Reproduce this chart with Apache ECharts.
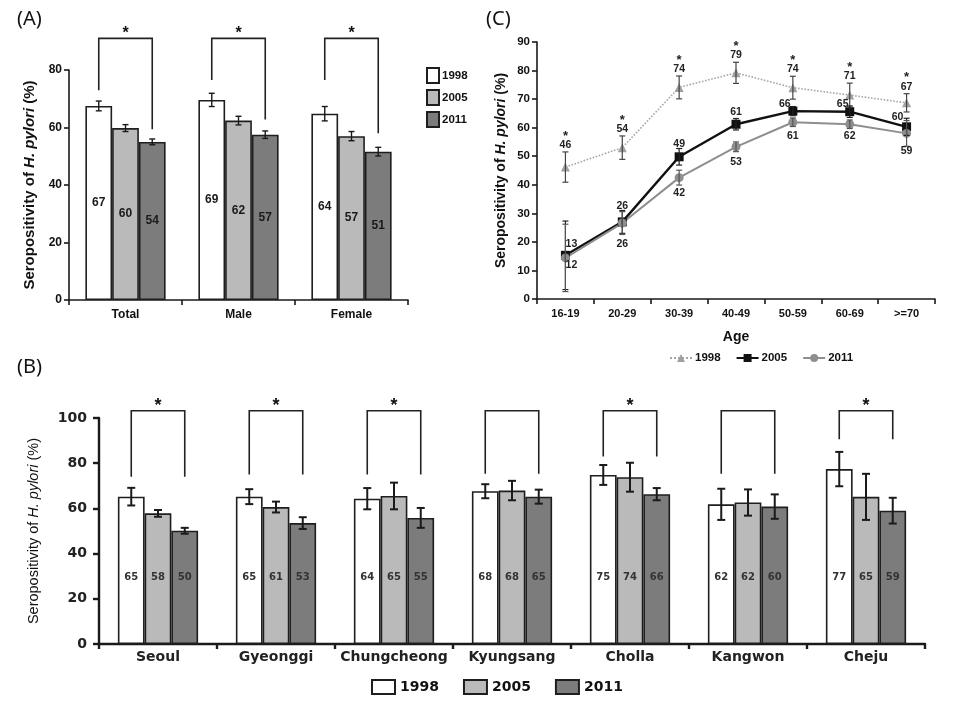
<!DOCTYPE html>
<html><head><meta charset="utf-8">
<script src="https://cdn.jsdelivr.net/npm/echarts@6/dist/echarts.min.js"></script>
<style>html,body{margin:0;background:#fff}#c{width:960px;height:720px}</style>
</head><body><div id="c"></div>
<script>
// ---------- Panel A: total / sex ----------
const aCats = ['Total', 'Male', 'Female'];
const a1998 = [67.5, 69.6, 64.8];
const a2005 = [59.8, 62.4, 57.0];
const a2011 = [55.0, 57.5, 51.6];
const a1998Err = [1.7, 2.3, 2.5];
const a2005Err = [1.2, 1.5, 1.6];
const a2011Err = [1.0, 1.3, 1.5];
const a1998Lbl = [67, 69, 64];
const a2005Lbl = [60, 62, 57];
const a2011Lbl = [54, 57, 51];
const aBrLeft = [73, 76.5, 76.5];
const aBrRight = [59.4, 62.8, 58.0];
const aBrTop = [91, 91, 91];
const aStar = [1, 1, 1];
const aTicks = [0, 20, 40, 60, 80];

// ---------- Panel B: regions ----------
const bCats = ['Seoul', 'Gyeonggi', 'Chungcheong', 'Kyungsang', 'Cholla', 'Kangwon', 'Cheju'];
const b1998 = [65.2, 65.2, 64.3, 67.6, 74.8, 61.8, 77.4];
const b2005 = [57.8, 60.6, 65.5, 67.9, 73.8, 62.6, 65.1];
const b2011 = [50.1, 53.5, 55.8, 65.2, 66.3, 60.8, 59.0];
const b1998Err = [3.9, 3.3, 4.7, 3.1, 4.4, 6.9, 7.6];
const b2005Err = [1.5, 2.4, 5.9, 4.3, 6.4, 5.8, 10.2];
const b2011Err = [1.3, 2.6, 4.4, 3.1, 2.7, 5.4, 5.7];
const b1998Lbl = [65, 65, 64, 68, 75, 62, 77];
const b2005Lbl = [58, 61, 65, 68, 74, 62, 65];
const b2011Lbl = [50, 53, 55, 65, 66, 60, 59];
const bBrLeft = [74, 75, 75, 75.3, 83, 75.3, 90.6];
const bBrRight = [74, 75, 75, 75.3, 83, 75.3, 90.6];
const bBrTop = [103.2, 103.2, 103.2, 103.2, 103.2, 103.2, 103.2];
const bStar = [1, 1, 1, 0, 1, 0, 1];
const bTicks = [0, 20, 40, 60, 80, 100];

// ---------- Panel C: age groups ----------
const cCats = ['16-19', '20-29', '30-39', '40-49', '50-59', '60-69', '>=70'];
const c1998 = [46.2, 53.0, 74.1, 79.2, 74.0, 71.4, 68.7];
const c2005 = [15.3, 27.0, 49.8, 61.2, 65.8, 65.6, 60.3];
const c2011 = [14.4, 26.6, 42.5, 53.3, 61.9, 61.2, 58.0];
const c1998Err = [5.3, 4.1, 4.0, 3.7, 4.0, 4.2, 3.2];
const c2005Err = [12.0, 4.0, 2.9, 2.0, 1.6, 2.0, 3.0];
const c2011Err = [11.8, 4.0, 2.6, 1.7, 1.5, 1.5, 4.5];
const c1998Lbl = [46, 54, 74, 79, 74, 71, 67];
const c2005Lbl = [13, 26, 49, 61, 66, 65, 60];
const c2011Lbl = [12, 26, 42, 53, 61, 62, 59];
const cStar = [1, 1, 1, 1, 1, 1, 1];
const cTicks = [0, 10, 20, 30, 40, 50, 60, 70, 80, 90];

const years = ['1998', '2005', '2011'];

// ---------- styling ----------
const NARROW = "'Liberation Sans',Arial,sans-serif";
const SANS = "'Liberation Sans',Arial,sans-serif";
const WIDE = "'DejaVu Sans',Verdana,sans-serif";
const barColors = ['#ffffff', '#bababa', '#7c7c7c'];
const A_GAP = 0.29, B_GAP = 0.32;

function errBarItem(gap, k, color, capW, lw) {
  return function (params, api) {
    const i = api.value(0), v = api.value(1), e = api.value(2);
    const band = api.size([1, 0])[0];
    const gw = band * (1 - gap), bw = gw / 3;
    const x = api.coord([i, v])[0] - gw / 2 + bw * (k + 0.5);
    const yt = api.coord([i, v + e])[1], yb = api.coord([i, v - e])[1];
    const st = { stroke: color, lineWidth: lw };
    return { type: 'group', children: [
      { type: 'line', shape: { x1: x, y1: yt, x2: x, y2: yb }, style: st },
      { type: 'line', shape: { x1: x - capW, y1: yt, x2: x + capW, y2: yt }, style: st },
      { type: 'line', shape: { x1: x - capW, y1: yb, x2: x + capW, y2: yb }, style: st }
    ] };
  };
}
function bracketItem(gap, starFont, starDy) {
  return function (params, api) {
    const i = api.value(0), l = api.value(1), r = api.value(2), t = api.value(3), s = api.value(4);
    const band = api.size([1, 0])[0];
    const gw = band * (1 - gap), bw = gw / 3;
    const cx = api.coord([i, t])[0];
    const lx = cx - gw / 2 + bw / 2, rx = cx + gw / 2 - bw / 2;
    const yt = api.coord([i, t])[1];
    const ch = [{ type: 'polyline', shape: { points: [[lx, api.coord([i, l])[1]], [lx, yt], [rx, yt], [rx, api.coord([i, r])[1]]] },
      style: { stroke: '#222', lineWidth: 1.6, fill: null } }];
    if (s) ch.push({ type: 'text', x: (lx + rx) / 2, y: yt + starDy,
      style: { text: '*', font: starFont, fill: '#111', align: 'center', verticalAlign: 'middle' } });
    return { type: 'group', children: ch };
  };
}
function lineErrItem(color, capW, lw, labelFn) {
  return function (params, api) {
    const i = api.value(0), v = api.value(1), e = api.value(2);
    const p = api.coord([i, v]);
    const x = p[0];
    const yt = api.coord([i, v + e])[1], yb = api.coord([i, v - e])[1];
    const st = { stroke: color, lineWidth: lw };
    const ch = [
      { type: 'line', shape: { x1: x, y1: yt, x2: x, y2: yb }, style: st },
      { type: 'line', shape: { x1: x - capW, y1: yt, x2: x + capW, y2: yt }, style: st },
      { type: 'line', shape: { x1: x - capW, y1: yb, x2: x + capW, y2: yb }, style: st }
    ];
    labelFn(params.dataIndex, p, yt, yb).forEach(t => ch.push(t));
    return { type: 'group', children: ch, z2: 50 };
  };
}
const cLblFont = 'bold 10.5px ' + NARROW;
function txt(s, x, y, font) {
  return { type: 'text', x: x, y: y, style: { text: String(s), font: font || cLblFont, fill: '#222', align: 'center', verticalAlign: 'middle' } };
}
const off2005 = [[6, -11], [0, -16], [0, -13], [0, -12], [-8, -7], [-7, -8], [-9, -10]];
const off2011 = [[6, 7], [0, 21], [0, 15], [0, 15], [0, 14], [0, 12], [0, 18]];

const tri = (arr, err) => arr.map((v, i) => [i, v, err[i]]);
const br = (l, r, t, s) => l.map((v, i) => [i, v, r[i], t[i], s[i]]);

function axisName(size, weight, family) {
  return {
    fontSize: size, fontWeight: weight, fontFamily: family, color: '#111',
    rich: {
      a: { fontSize: size, fontWeight: weight, fontFamily: family, color: '#111' },
      b: { fontSize: size, fontWeight: weight, fontFamily: family, fontStyle: 'italic', color: '#111' }
    }
  };
}
const yName = '{a|Seropositivity of }{b|H. pylori}{a| (%)}';

const axLine = { show: true, lineStyle: { color: '#1a1a1a', width: 1.6 } };
const axTick = { show: true, length: 5, lineStyle: { color: '#1a1a1a', width: 1.6 } };

function barSeries(prefix, k, data, lbls, ax, gap, labelCfg) {
  return {
    type: 'bar', name: prefix + years[k], xAxisIndex: ax, yAxisIndex: ax, data: data,
    barGap: '0%', barCategoryGap: (gap * 100) + '%',
    itemStyle: { color: barColors[k], borderColor: '#1e1e1e', borderWidth: 1.6 },
    label: Object.assign({ show: true, formatter: p => String(lbls[p.dataIndex]), color: '#1a1a1a' }, labelCfg),
    emphasis: { disabled: true }, z: 2
  };
}

const series = [];
// Panel A bars
[[a1998, a1998Lbl], [a2005, a2005Lbl], [a2011, a2011Lbl]].forEach((d, k) =>
  series.push(barSeries('A', k, d[0], d[1], 0, A_GAP, { position: 'inside', fontSize: 12, fontWeight: 'bold', fontFamily: NARROW })));
[[a1998, a1998Err], [a2005, a2005Err], [a2011, a2011Err]].forEach((d, k) =>
  series.push({ type: 'custom', xAxisIndex: 0, yAxisIndex: 0, clip: false, z: 5, silent: true,
    renderItem: errBarItem(A_GAP, k, '#1a1a1a', 3, 1.4), data: tri(d[0], d[1]) }));
series.push({ type: 'custom', xAxisIndex: 0, yAxisIndex: 0, clip: false, z: 5, silent: true,
  renderItem: bracketItem(A_GAP, 'bold 16px ' + SANS, -5), data: br(aBrLeft, aBrRight, aBrTop, aStar) });

// Panel B bars
[[b1998, b1998Lbl], [b2005, b2005Lbl], [b2011, b2011Lbl]].forEach((d, k) =>
  series.push(barSeries('B', k, d[0], d[1], 1, B_GAP, { position: 'insideBottom', distance: 62, fontSize: 10, fontWeight: 'bold', fontFamily: WIDE, color: '#333' })));
[[b1998, b1998Err], [b2005, b2005Err], [b2011, b2011Err]].forEach((d, k) =>
  series.push({ type: 'custom', xAxisIndex: 1, yAxisIndex: 1, clip: false, z: 5, silent: true,
    renderItem: errBarItem(B_GAP, k, '#1a1a1a', 4, 2), data: tri(d[0], d[1]) }));
series.push({ type: 'custom', xAxisIndex: 1, yAxisIndex: 1, clip: false, z: 5, silent: true,
  renderItem: bracketItem(B_GAP, 'bold 18px ' + SANS, -5), data: br(bBrLeft, bBrRight, bBrTop, bStar) });

// Panel C lines
series.push({ type: 'line', name: 'C1998', xAxisIndex: 2, yAxisIndex: 2, data: c1998, symbol: 'triangle', symbolSize: 9,
  lineStyle: { color: '#a6a6a6', type: 'dotted', width: 1.6 }, itemStyle: { color: '#a0a0a0' }, z: 3, emphasis: { disabled: true } });
series.push({ type: 'line', name: 'C2005', xAxisIndex: 2, yAxisIndex: 2, data: c2005, symbol: 'rect', symbolSize: 9,
  lineStyle: { color: '#111', width: 2.4 }, itemStyle: { color: '#111' }, z: 4, emphasis: { disabled: true } });
series.push({ type: 'line', name: 'C2011', xAxisIndex: 2, yAxisIndex: 2, data: c2011, symbol: 'circle', symbolSize: 9,
  lineStyle: { color: '#8e8e8e', width: 2 }, itemStyle: { color: '#8e8e8e' }, z: 4, emphasis: { disabled: true } });
series.push({ type: 'custom', xAxisIndex: 2, yAxisIndex: 2, clip: false, z: 6, silent: true, data: tri(c1998, c1998Err),
  renderItem: lineErrItem('#444', 3, 1.2, (i, p, yt) => {
    const ly = yt - 7;
    const out = [txt(c1998Lbl[i], p[0], ly)];
    if (cStar[i]) out.push(txt('*', p[0], ly - 9, 'bold 13px ' + SANS));
    return out;
  }) });
series.push({ type: 'custom', xAxisIndex: 2, yAxisIndex: 2, clip: false, z: 6, silent: true, data: tri(c2005, c2005Err),
  renderItem: lineErrItem('#222', 3, 1.2, (i, p) => [txt(c2005Lbl[i], p[0] + off2005[i][0], p[1] + off2005[i][1])]) });
series.push({ type: 'custom', xAxisIndex: 2, yAxisIndex: 2, clip: false, z: 6, silent: true, data: tri(c2011, c2011Err),
  renderItem: lineErrItem('#555', 3, 1.2, (i, p) => [txt(c2011Lbl[i], p[0] + off2011[i][0], p[1] + off2011[i][1])]) });

const option = {
  animation: false,
  backgroundColor: '#fff',
  grid: [
    { left: 69, right: 552, top: 70, bottom: 420, containLabel: false, outerBoundsMode: 'none' },
    { left: 99, right: 35, top: 418, bottom: 76, containLabel: false, outerBoundsMode: 'none' },
    { left: 537, right: 25, top: 42, bottom: 421, containLabel: false, outerBoundsMode: 'none' }
  ],
  xAxis: [
    { type: 'category', gridIndex: 0, data: aCats, axisLine: axLine, axisTick: axTick,
      axisLabel: { interval: 0, margin: 9, color: '#111', fontSize: 12, fontWeight: 'bold', fontFamily: NARROW } },
    { type: 'category', gridIndex: 1, data: bCats, axisLine: { show: true, lineStyle: { color: '#1a1a1a', width: 2.4 } },
      axisTick: { show: true, length: 5, lineStyle: { color: '#1a1a1a', width: 2.4 } },
      axisLabel: { interval: 0, margin: 6, color: '#222', fontSize: 14, fontWeight: 'bold', fontFamily: WIDE } },
    { type: 'category', gridIndex: 2, data: cCats, axisLine: axLine, axisTick: axTick,
      name: 'Age', nameLocation: 'middle', nameGap: 31, nameTextStyle: { fontSize: 14, fontWeight: 'bold', fontFamily: NARROW, color: '#111' },
      axisLabel: { interval: 0, margin: 9, color: '#111', fontSize: 11, fontWeight: 'bold', fontFamily: NARROW } }
  ],
  yAxis: [
    { type: 'value', gridIndex: 0, min: aTicks[0], max: aTicks[aTicks.length - 1], interval: aTicks[1] - aTicks[0],
      splitLine: { show: false }, axisLine: axLine, axisTick: axTick,
      axisLabel: { margin: 7, color: '#111', fontSize: 12, fontWeight: 'bold', fontFamily: NARROW },
      name: yName, nameLocation: 'middle', nameRotate: 90, nameGap: 32, nameTextStyle: axisName(15, 'bold', SANS) },
    { type: 'value', gridIndex: 1, min: bTicks[0], max: bTicks[bTicks.length - 1], interval: bTicks[1] - bTicks[0],
      splitLine: { show: false }, axisLine: { show: true, lineStyle: { color: '#1a1a1a', width: 2.4 } },
      axisTick: { show: true, length: 6, lineStyle: { color: '#1a1a1a', width: 2.4 } },
      axisLabel: { margin: 12, color: '#222', fontSize: 14, fontWeight: 'bold', fontFamily: WIDE },
      name: yName, nameLocation: 'middle', nameRotate: 90, nameGap: 58, nameTextStyle: axisName(14.5, 'normal', SANS) },
    { type: 'value', gridIndex: 2, min: cTicks[0], max: cTicks[cTicks.length - 1], interval: cTicks[1] - cTicks[0],
      splitLine: { show: false }, axisLine: axLine, axisTick: axTick,
      axisLabel: { margin: 7, color: '#111', fontSize: 11.5, fontWeight: 'bold', fontFamily: NARROW },
      name: yName, nameLocation: 'middle', nameRotate: 90, nameGap: 29, nameTextStyle: axisName(14, 'bold', SANS) }
  ],
  legend: [
    { orient: 'vertical', left: 421, top: 62, icon: 'rect', itemWidth: 12, itemHeight: 15, itemGap: 5,
      data: ['A1998', 'A2005', 'A2011'], formatter: n => n.slice(1), selectedMode: false,
      textStyle: { fontSize: 11.5, fontWeight: 'bold', fontFamily: NARROW, color: '#111', padding: [0, 0, 0, -2] } },
    { orient: 'horizontal', left: 366, top: 674, icon: 'rect', itemWidth: 23, itemHeight: 14, itemGap: 24,
      data: ['B1998', 'B2005', 'B2011'], formatter: n => n.slice(1), selectedMode: false,
      textStyle: { fontSize: 14, fontWeight: 'bold', fontFamily: WIDE, color: '#111' } },
    { orient: 'horizontal', left: 664, top: 347, itemWidth: 22, itemHeight: 10, itemGap: 15,
      data: ['C1998', 'C2005', 'C2011'], formatter: n => n.slice(1), selectedMode: false,
      textStyle: { fontSize: 11.5, fontWeight: 'bold', fontFamily: NARROW, color: '#111', padding: [0, 0, 0, -2] } }
  ],
  graphic: [
    { type: 'text', left: 17, top: 9, style: { text: '(A)', font: '20px ' + "'Noto Sans',sans-serif", fill: '#111' } },
    { type: 'text', left: 17, top: 357, style: { text: '(B)', font: '20px ' + "'Noto Sans',sans-serif", fill: '#111' } },
    { type: 'text', left: 486, top: 9, style: { text: '(C)', font: '20px ' + "'Noto Sans',sans-serif", fill: '#111' } }
  ],
  series: series
};
const chart = echarts.init(document.getElementById('c'), null, { renderer: 'canvas' });
chart.setOption(option);
</script>
</body></html>
